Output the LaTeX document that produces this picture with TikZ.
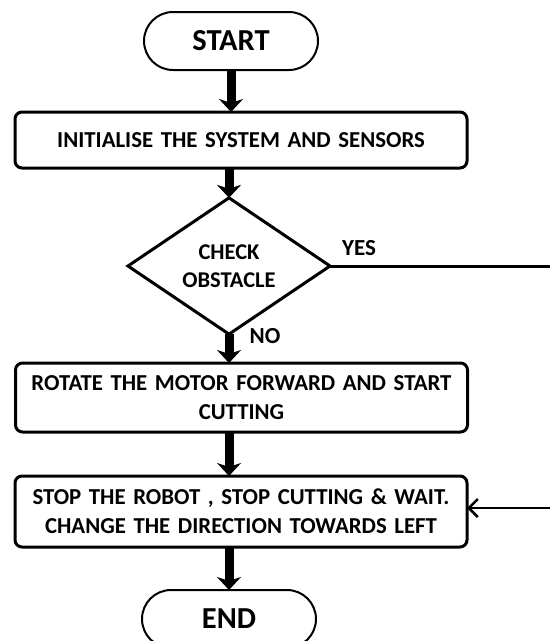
\documentclass[tikz,border=0pt]{standalone}
\usepackage{fontspec}
\setmainfont{Carlito}[WordSpace=0.75]
\usetikzlibrary{shapes.geometric,arrows.meta}
\tikzset{
  terminal/.style={draw, line width=2pt, rounded corners=29pt, minimum width=174pt, minimum height=58pt, inner sep=0pt, outer sep=0pt, font=\fontsize{30.5}{32}\selectfont\bfseries},
  procbox/.style={draw, line width=3pt, rounded corners=7pt, minimum width=452pt, inner sep=0pt, outer sep=0pt, text width=445pt, align=center, font=\fontsize{22.8}{29}\selectfont\bfseries},
  decision/.style={draw, line width=3pt, diamond, minimum width=202pt, minimum height=102pt, inner sep=0pt, outer sep=0pt, align=center, font=\fontsize{22.5}{28}\selectfont\bfseries},
  lbl/.style={inner sep=0pt, font=\fontsize{23}{25}\selectfont\bfseries},
  bigarrow/.style={line width=9pt, -{Stealth[length=13pt,width=24pt,inset=4pt]}},
  thinline/.style={line width=3pt},
  backarrow/.style={line width=2.5pt, -{Straight Barb[length=9pt,width=18pt,line width=2.5pt]}}
}
\begin{document}
\begin{tikzpicture}[x=1pt,y=-1pt]
\useasboundingbox (0,0) rectangle (550,641);
\node[terminal] (start) at (231,41) {START};
\node[procbox, minimum height=56pt] (init) at (241,140) {INITIALISE THE SYSTEM AND SENSORS};
\node[decision] (check) at (229,266) {CHECK\\OBSTACLE};
\node[procbox, minimum height=69pt] (rotate) at (241.5,397.5) {ROTATE THE MOTOR FORWARD AND START\\CUTTING};
\node[procbox, minimum height=71pt] (stop) at (241,511.5) {STOP THE ROBOT , STOP CUTTING \& WAIT.\\CHANGE THE DIRECTION TOWARDS LEFT};
\node[terminal] (end) at (229,619) {END};
\node[lbl] (yes) at (359,248) {YES};
\node[lbl] (no) at (265,336) {NO};
\coordinate (yesend) at (550,266);
\coordinate (backstart) at (550,508);
\draw[bigarrow] (start.south) -- (start.south |- init.north);
\draw[bigarrow] (check.north |- init.south) -- (check.north);
\draw[bigarrow] (check.south) -- (check.south |- rotate.north);
\draw[bigarrow] (check.south |- rotate.south) -- (check.south |- stop.north);
\draw[bigarrow] (end.north |- stop.south) -- (end.north);
\draw[thinline] (check.east) -- (yesend);
\draw[backarrow] (backstart) -- (backstart -| stop.east);
\end{tikzpicture}
\end{document}
